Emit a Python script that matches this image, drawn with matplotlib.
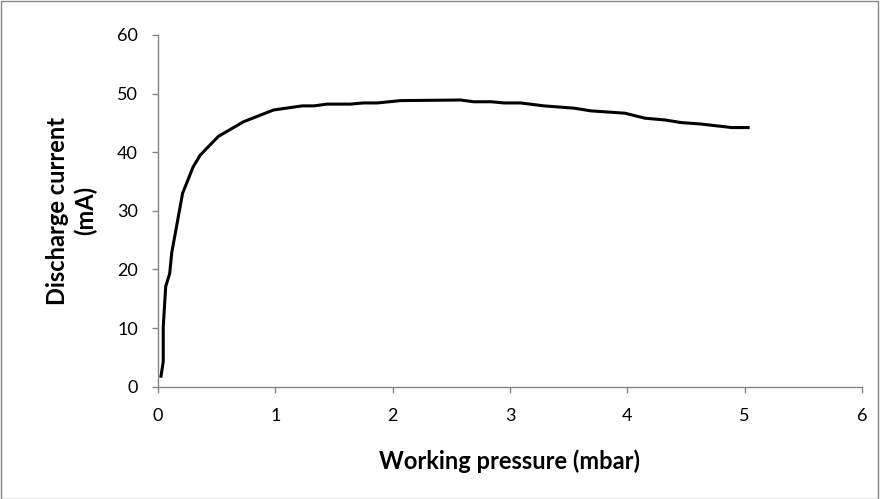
import matplotlib
matplotlib.use('Agg')
import matplotlib.pyplot as plt
from matplotlib.patches import Rectangle

plt.rcParams['font.family'] = ['Lato', 'DejaVu Sans']

# discharge current vs working pressure
pressure = [0.026, 0.045, 0.045, 0.066, 0.10, 0.117, 0.21, 0.30, 0.36, 0.515, 0.73,
            0.985, 1.23, 1.33, 1.44, 1.64, 1.75, 1.87, 2.07, 2.58, 2.69, 2.84, 2.95,
            3.09, 3.29, 3.55, 3.69, 3.98, 4.15, 4.32, 4.46, 4.63, 4.89, 5.03]
current = [1.8, 4.3, 10.2, 17.1, 19.3, 22.8, 33.0, 37.5, 39.5, 42.7, 45.2,
           47.2, 47.9, 47.9, 48.2, 48.2, 48.4, 48.4, 48.8, 48.9, 48.6, 48.6, 48.4,
           48.4, 47.9, 47.5, 47.05, 46.65, 45.8, 45.5, 45.05, 44.8, 44.2, 44.2]

fig = plt.figure(figsize=(8.8, 4.99), dpi=100)
ax = fig.add_axes([0.1795, 0.225, 0.8, 0.705])

ax.plot(pressure, current, color='black', lw=2.2, solid_joinstyle='round')

ax.set_xlim(0, 6)
ax.set_ylim(0, 60)
ax.set_xticks(range(0, 7))
ax.set_yticks(range(0, 61, 10))

axis_grey = '#868686'
for side in ['top', 'right']:
    ax.spines[side].set_visible(False)
for side in ['left', 'bottom']:
    ax.spines[side].set_color(axis_grey)
    ax.spines[side].set_linewidth(1.0)
ax.tick_params(axis='both', colors=axis_grey, length=4.5, width=1.0, labelcolor='black',
               labelsize=13)
ax.tick_params(axis='x', pad=11)
ax.tick_params(axis='y', pad=10)

ax.set_xlabel('Working pressure (mbar)', fontsize=17, fontweight='bold', labelpad=18)
ax.set_ylabel('Discharge current\n(mA)', fontsize=17, fontweight='bold', labelpad=14,
              linespacing=1.25)

# thin grey frame round the whole chart area
fig.patches.append(Rectangle((0.001, 0.001), 0.997, 0.997, transform=fig.transFigure,
                             fill=False, edgecolor=axis_grey, lw=1.0))

fig.savefig('out.png', dpi=100, facecolor='white')
plt.close()
